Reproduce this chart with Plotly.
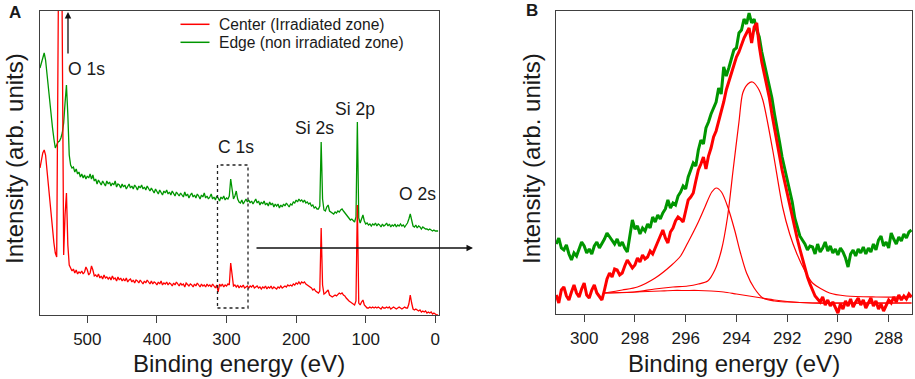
import plotly.graph_objects as go

# ---------------- data ----------------
# Panel A: survey spectra, binding energy grid (eV), 2 eV step
energy_A = list(range(568, -6, -2))

edge_A = [
    247, 252, 256, 262, 255, 240, 227, 212, 200, 187,   # 568-550
    176, 167, 170, 173, 174, 177, 182, 192, 212, 230,   # 548-530
    200, 160, 150, 147, 148, 143, 146, 141, 143, 138,   # 528-510
    141, 137, 140, 136, 139, 137, 141, 136, 140, 134,   # 508-490
    136, 131, 135, 133, 130, 134, 132, 129, 134, 131,   # 488-470
    133, 129, 132, 130, 134, 128, 131, 130, 127, 131,   # 468-450
    128, 130, 126, 129, 131, 127, 129, 126, 130, 128,   # 448-430
    125, 129, 127, 130, 126, 128, 125, 129, 127, 124,   # 428-410
    127, 125, 122, 126, 124, 121, 125, 123, 120, 124,   # 408-390
    122, 125, 121, 123, 120, 124, 122, 119, 123, 121,   # 388-370
    119, 122, 120, 118, 123, 119, 121, 117, 120, 122,   # 368-350
    118, 120, 117, 121, 119, 116, 120, 118, 122, 117,   # 348-330
    119, 116, 118, 121, 116, 118, 115, 119, 117, 114,   # 328-310
    118, 116, 119, 115, 117, 116, 119, 136, 126, 116,   # 308-290
    119, 124, 116, 113, 112, 115, 111, 114, 116, 113,   # 288-270
    115, 112, 114, 111, 113, 116, 112, 114, 110, 113,   # 268-250
    111, 114, 110, 112, 109, 113, 110, 112, 108, 111,   # 248-230
    109, 111, 107, 110, 108, 111, 109, 112, 110, 108,   # 228-210
    111, 110, 113, 112, 115, 113, 116, 114, 115, 113,   # 208-190
    115, 112, 113, 111, 112, 109, 110, 107, 108, 106,   # 188-170
    106, 109, 173, 116, 105, 104, 108, 110, 104, 103,   # 168-150
    102, 101, 103, 102, 104, 103, 105, 106, 104, 102,   # 148-130
    100, 98, 96, 95, 96, 94, 93, 98, 193, 97,           # 128-110
    92, 96, 100, 94, 91, 92, 90, 91, 89, 91,            # 108-90
    90, 92, 89, 91, 90, 88, 91, 89, 90, 92,             # 88-70
    89, 91, 88, 90, 89, 91, 88, 90, 89, 91,             # 68-50
    89, 90, 88, 90, 92, 96, 101, 95, 89, 88,            # 48-30
    90, 87, 89, 88, 86, 88, 87, 86, 86, 85,             # 28-10
    86, 85, 84, 85, 84, 84, 84,                         # 8 to -4
]

center_A = [
    147, 155, 162, 165, 160, 145, 130, 120, 100, 83,    # 568-550
    72, 62, 58, 275, 492, 489, 282, 60, 100, 122,       # 548-530
    70, 50, 47, 44, 46, 42, 45, 41, 43, 42,             # 528-510
    44, 41, 43, 48, 45, 40, 42, 49, 45, 39,             # 508-490
    40, 38, 41, 37, 39, 36, 40, 37, 38, 36,             # 488-470
    38, 35, 39, 36, 37, 34, 38, 35, 37, 34,             # 468-450
    36, 34, 37, 33, 35, 36, 33, 35, 32, 35,             # 448-430
    34, 32, 35, 33, 31, 34, 32, 35, 33, 31,             # 428-410
    34, 31, 33, 32, 30, 33, 31, 34, 30, 32,             # 408-390
    31, 33, 30, 32, 31, 29, 32, 30, 33, 31,             # 388-370
    29, 32, 30, 31, 28, 32, 30, 29, 31, 30,             # 368-350
    28, 31, 29, 32, 30, 28, 31, 29, 30, 28,             # 348-330
    31, 29, 30, 28, 31, 29, 27, 30, 23, 31,             # 328-310
    29, 31, 28, 30, 29, 31, 30, 52, 38, 29,             # 308-290
    30, 28, 30, 27, 29, 28, 30, 27, 28, 29,             # 288-270
    27, 29, 28, 30, 27, 28, 29, 27, 28, 26,             # 268-250
    28, 27, 29, 26, 28, 27, 29, 26, 28, 27,             # 248-230
    26, 28, 27, 29, 27, 28, 29, 28, 30, 29,             # 228-210
    30, 29, 31, 30, 32, 31, 33, 31, 33, 32,             # 208-190
    33, 31, 30, 29, 28, 27, 25, 26, 24, 23,             # 188-170
    22, 24, 87, 30, 21, 22, 24, 25, 20, 19,             # 168-150
    18, 19, 20, 19, 21, 22, 21, 22, 20, 19,             # 148-130
    17, 15, 14, 13, 12, 11, 10, 14, 110, 12,            # 128-110
    10, 13, 15, 10, 8, 7, 7, 8, 7, 8,                   # 108-90
    7, 8, 7, 8, 7, 6, 8, 7, 7, 8,                       # 88-70
    7, 8, 6, 7, 8, 7, 6, 7, 8, 7,                       # 68-50
    6, 7, 8, 7, 7, 11, 20, 12, 6, 5,                    # 48-30
    6, 5, 4, 5, 3, 4, 3, 4, 2, 3,                       # 28-10
    2, 3, 1, 2, 1, 0, 0,                                # 8 to -4
]

# Panel B: C 1s high resolution, 0.1 eV step from 301.1 to 287.1
energy_B = [round(301.1 - 0.1 * i, 1) for i in range(141)]

edge_B = [
    70, 76, 66, 64, 69, 60, 54, 61, 58, 66,             # 301.1-300.2
    72, 68, 61, 65, 60, 68, 72, 66, 70, 75,             # 300.1-299.2
    81, 77, 74, 70, 75, 68, 72, 66, 62, 80,             # 299.1-298.2
    94, 85, 88, 80, 86, 83, 90, 86, 97, 92,             # 298.1-297.2
    99, 95, 101, 105, 114, 106, 111, 109, 118, 122,     # 297.1-296.2
    128, 125, 137, 144, 151, 148, 164, 174, 170, 186,   # 296.1-295.2
    192, 200, 207, 212, 226, 220, 247, 238, 246, 255,   # 295.1-294.2
    264, 266, 281, 284, 295, 290, 301, 291, 295, 284,   # 294.1-293.2
    277, 262, 251, 240, 227, 216, 200, 187, 172, 157,   # 293.1-292.2
    146, 132, 121, 112, 96, 87, 78, 74, 70, 64,         # 292.1-291.2
    68, 67, 60, 70, 62, 66, 72, 63, 68, 61,             # 291.1-290.2
    65, 59, 66, 62, 56, 47, 60, 64, 58, 65,             # 290.1-289.2
    61, 67, 60, 66, 62, 70, 64, 74, 78, 68,             # 289.1-288.2
    72, 66, 81, 75, 70, 77, 73, 80, 76, 82,             # 288.1-287.2
    84,                                                 # 287.1
]

center_B = [
    19, 11, 24, 27, 18, 14, 22, 29, 21, 17,             # 301.1-300.2
    25, 31, 19, 16, 24, 29, 21, 18, 14, 24,             # 300.1-299.2
    35, 41, 37, 45, 44, 39, 41, 48, 54, 50,             # 299.1-298.2
    46, 49, 56, 52, 59, 55, 57, 63, 60, 66,             # 298.1-297.2
    72, 78, 84, 76, 71, 82, 86, 93, 97, 95,             # 297.1-296.2
    92, 103, 114, 117, 121, 133, 144, 150, 157, 145,    # 296.1-295.2
    158, 166, 177, 183, 192, 201, 212, 224, 232, 240,   # 295.1-294.2
    248, 257, 262, 270, 276, 281, 286, 271, 287, 291,   # 294.1-293.2
    268, 252, 240, 228, 216, 200, 187, 172, 158, 144,   # 293.1-292.2
    132, 120, 108, 97, 86, 75, 65, 55, 45, 37,          # 292.1-291.2
    30, 24, 18, 15, 12, 17, 9, 14, 8, 12,               # 291.1-290.2
    6, 1, 10, 5, 13, 8, 15, 7, 12, 16,                  # 290.1-289.2
    9, 14, 6, 11, 16, 8, 13, 5, 10, 3,                  # 289.1-288.2
    8, 14, 11, 17, 12, 19, 14, 18, 15, 20,              # 288.1-287.2
    17,                                                 # 287.1
]

# Fitted components (background + peaks) for panel B
bg_energy = [299.2, 298.5, 298.0, 297.5, 297.0, 296.5, 296.0, 295.5, 295.0, 294.5,
             294.0, 293.5, 293.0, 292.5, 292.0, 291.5, 291.0, 290.0, 289.0, 288.0, 287.1]
bg_value = [21, 21.5, 22, 22.5, 23, 23.5, 23.5, 23.5, 23, 22,
            20, 18, 16, 14, 12.5, 11.5, 11, 11, 11, 11, 11]

peak2_energy = [299.2, 298.5, 297.9, 297.2, 296.55, 296.2, 295.92, 295.52, 295.24, 294.97,
                294.79, 294.59, 294.34, 294.07, 293.85, 293.6, 293.3, 292.96, 292.5, 292.0,
                291.0, 287.1]
peak2_value = [21, 24, 27, 36, 49, 58, 71, 91, 107, 122,
               126, 122, 107, 84, 62, 41, 26, 16, 13, 12,
               11, 11]

peak1_energy = [299.2, 298.0, 297.22, 296.5, 295.92, 295.5, 295.13, 294.85, 294.59, 294.35,
                294.13, 293.9, 293.75, 293.55, 293.37, 293.15, 292.96, 292.57, 292.18, 291.9,
                291.63, 291.3, 291.0, 290.33, 289.67, 288.5, 287.1]
peak1_value = [21, 22, 25, 27, 28, 30, 33, 44, 64, 97,
               144, 192, 221, 230, 232, 226, 214, 164, 107, 80,
               61, 43, 31, 21, 18, 17, 17]

ticks_A = [500, 400, 300, 200, 100, 0]
ticks_B = [300, 298, 296, 294, 292, 290, 288]

series_names = ["Center (Irradiated zone)", "Edge (non irradiated zone)"]

# ---------------- figure ----------------
W, H = 915, 379


def px(x):
    return x / W


def py(y):
    return 1 - y / H


FONT = "Liberation Sans, Arial, Helvetica, sans-serif"
RED = "#ff0000"
GREEN = "#009600"
AXC = "#404040"
TXT = "#1a1a1a"

fig = go.Figure()

fig.add_trace(go.Scatter(x=energy_A, y=edge_A, mode="lines", name=series_names[1], showlegend=False,
                         line=dict(color=GREEN, width=1.3), xaxis="x", yaxis="y"))
fig.add_trace(go.Scatter(x=energy_A, y=center_A, mode="lines", name=series_names[0], showlegend=False,
                         line=dict(color=RED, width=1.3), xaxis="x", yaxis="y"))

fig.add_trace(go.Scatter(x=energy_B, y=edge_B, mode="lines", showlegend=False,
                         line=dict(color=GREEN, width=3), xaxis="x2", yaxis="y2"))
fig.add_trace(go.Scatter(x=energy_B, y=center_B, mode="lines", showlegend=False,
                         line=dict(color=RED, width=3), xaxis="x2", yaxis="y2"))
for ex, vy in [(bg_energy, bg_value), (peak2_energy, peak2_value), (peak1_energy, peak1_value)]:
    fig.add_trace(go.Scatter(x=ex, y=vy, mode="lines", showlegend=False,
                             line=dict(color=RED, width=1.2, shape="spline", smoothing=0.8),
                             xaxis="x2", yaxis="y2"))

axis_common = dict(showline=True, mirror=True, linecolor=AXC, linewidth=1,
                   showgrid=False, zeroline=False)
xcommon = dict(axis_common, ticks="outside", ticklen=7, tickwidth=1, tickcolor=AXC,
               ticklabelstandoff=2,
               tickfont=dict(family=FONT, size=17, color=TXT))
ycommon = dict(axis_common, showticklabels=False, ticks="")

fig.update_layout(
    width=W, height=H,
    margin=dict(l=0, r=0, t=0, b=0),
    paper_bgcolor="white", plot_bgcolor="white",
    font=dict(family=FONT, color=TXT),
    showlegend=False,
    xaxis=dict(xcommon, domain=[px(40), px(439)], range=[568, -5.3], tickvals=ticks_A, anchor="y"),
    yaxis=dict(ycommon, domain=[py(315), py(11)], range=[0, 304], anchor="x"),
    xaxis2=dict(xcommon, domain=[px(556), px(912)], range=[301.11, 287.08], tickvals=ticks_B, anchor="y2"),
    yaxis2=dict(ycommon, domain=[py(314), py(11)], range=[0, 303], anchor="x2"),
)

ann = []


def label(text, x, y, size=17.5, bold=False, angle=0, anchor="center"):
    ann.append(dict(text=("<b>%s</b>" % text) if bold else text, x=px(x), y=py(y),
                    xref="paper", yref="paper", xanchor=anchor, yanchor="middle",
                    showarrow=False, textangle=angle,
                    font=dict(family=FONT, size=size, color=TXT)))


label("O 1s", 86.5, 68.5)
label("C 1s", 235.5, 146.5)
label("Si 2s", 314, 128)
label("Si 2p", 355, 108.5)
label("O 2s", 417.5, 193.5)
label("A", 15, 12.5, size=17, bold=True)
label("B", 531.5, 11, size=17, bold=True)
label("Binding energy (eV)", 239, 363.5, size=24)
label("Binding energy (eV)", 734, 363.5, size=24)
label("Intensity (arb. units)", 14, 159, size=24, angle=-90)
label("Intensity (arb. units)", 531, 159, size=24, angle=-90)

# legend drawn by hand (sample line + text)
for i, (nm, col) in enumerate(zip(series_names, [RED, GREEN])):
    yy = 24.3 + 18 * i
    fig.add_shape(type="line", xref="paper", yref="paper",
                  x0=px(180.5), x1=px(209.5), y0=py(yy), y1=py(yy),
                  line=dict(color=col, width=1.5))
    label(nm, 217, yy, size=15.6, anchor="left")

# arrows
ann.append(dict(text="", x=px(68), y=py(12), xref="paper", yref="paper",
                ax=0, ay=43, showarrow=True, arrowhead=2, arrowsize=1, arrowwidth=1.3,
                arrowcolor="#111111"))
ann.append(dict(text="", x=px(473), y=py(248), xref="paper", yref="paper",
                ax=-218, ay=0, showarrow=True, arrowhead=2, arrowsize=1, arrowwidth=1.3,
                arrowcolor="#111111"))
fig.update_layout(annotations=ann)

fig.add_shape(type="rect", xref="paper", yref="paper",
              x0=px(217.5), x1=px(248), y0=py(308), y1=py(165),
              line=dict(color="#222222", width=1.3, dash="dot"))

fig.write_html("out.html", config={"displayModeBar": False},
               post_script="document.body.style.margin='0';")
